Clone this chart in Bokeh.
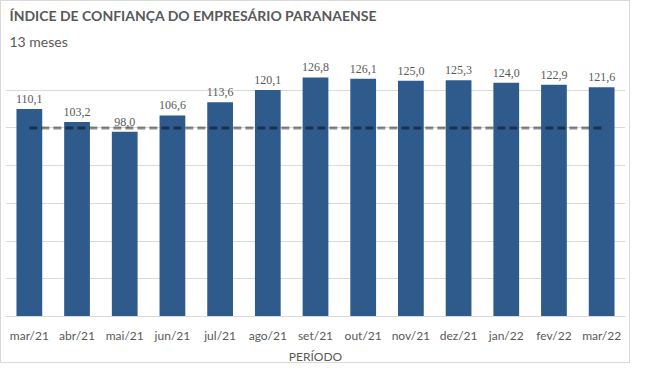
from bokeh.plotting import figure
from bokeh.models import ColumnDataSource, Title, FactorRange, Range1d, LabelSet, FixedTicker
from bokeh.embed import file_html
from bokeh.resources import INLINE

months = ["mar/21", "abr/21", "mai/21", "jun/21", "jul/21", "ago/21", "set/21",
          "out/21", "nov/21", "dez/21", "jan/22", "fev/22", "mar/22"]
values = [110.1, 103.2, 98.0, 106.6, 113.6, 120.1, 126.8, 126.1, 125.0, 125.3, 124.0, 122.9, 121.6]
reference_level = 100.0
y_ticks = [0, 20, 40, 60, 80, 100, 120, 140]
x_title = "PERÍODO"

labels = [f"{v:.1f}".replace(".", ",") for v in values]
src = ColumnDataSource(dict(m=months, v=values, lab=labels, ref=[reference_level] * len(months)))

FONT = "Lato"
GRAY = "#595959"

p = figure(x_range=FactorRange(*months, range_padding=0), y_range=Range1d(0, 140),
           width=630, height=363, output_backend="svg", toolbar_location=None,
           title=None, min_border_left=4, min_border_right=6, min_border_top=0,
           min_border_bottom=0)

p.add_layout(Title(text="13 meses", text_font=FONT, text_font_size="14px",
                   text_font_style="normal", text_color=GRAY, offset=4, standoff=6), "above")
p.add_layout(Title(text="ÍNDICE DE CONFIANÇA DO EMPRESÁRIO  PARANAENSE", text_font=FONT,
                   text_font_size="14px", text_font_style="bold", text_color=GRAY,
                   offset=4, standoff=7), "above")

p.vbar(x="m", top="v", width=0.54, source=src, fill_color="#2f5b8c", line_color=None)
p.line(x="m", y="ref", source=src, line_color="black", line_alpha=0.45, line_width=3, line_dash="8 4")

p.add_layout(LabelSet(x="m", y="v", text="lab", source=src, text_align="center",
                      text_baseline="bottom", y_offset=6, text_font=FONT,
                      text_font_size="12px", text_color=GRAY))

p.yaxis.visible = False
p.yaxis.ticker = FixedTicker(ticks=y_ticks)
p.ygrid.ticker = FixedTicker(ticks=y_ticks)
p.ygrid.grid_line_color = "#d9d9d9"
p.xgrid.grid_line_color = None
p.outline_line_color = None

p.xaxis.axis_line_color = "#d9d9d9"
p.xaxis.major_tick_line_color = None
p.xaxis.minor_tick_line_color = None
p.xaxis.major_tick_out = 0
p.xaxis.major_tick_in = 0
p.xaxis.minor_tick_out = 0
p.xaxis.major_label_text_font = FONT
p.xaxis.major_label_text_font_size = "12px"
p.xaxis.major_label_text_color = GRAY
p.xaxis.major_label_standoff = 11

p.add_layout(Title(text=x_title, text_font=FONT, text_font_size="12px",
                   text_font_style="normal", text_color=GRAY, align="center",
                   standoff=2), "below")

p.styles = {"border": "1px solid #d9d9d9"}

open("out.html", "w").write(file_html(p, INLINE))
